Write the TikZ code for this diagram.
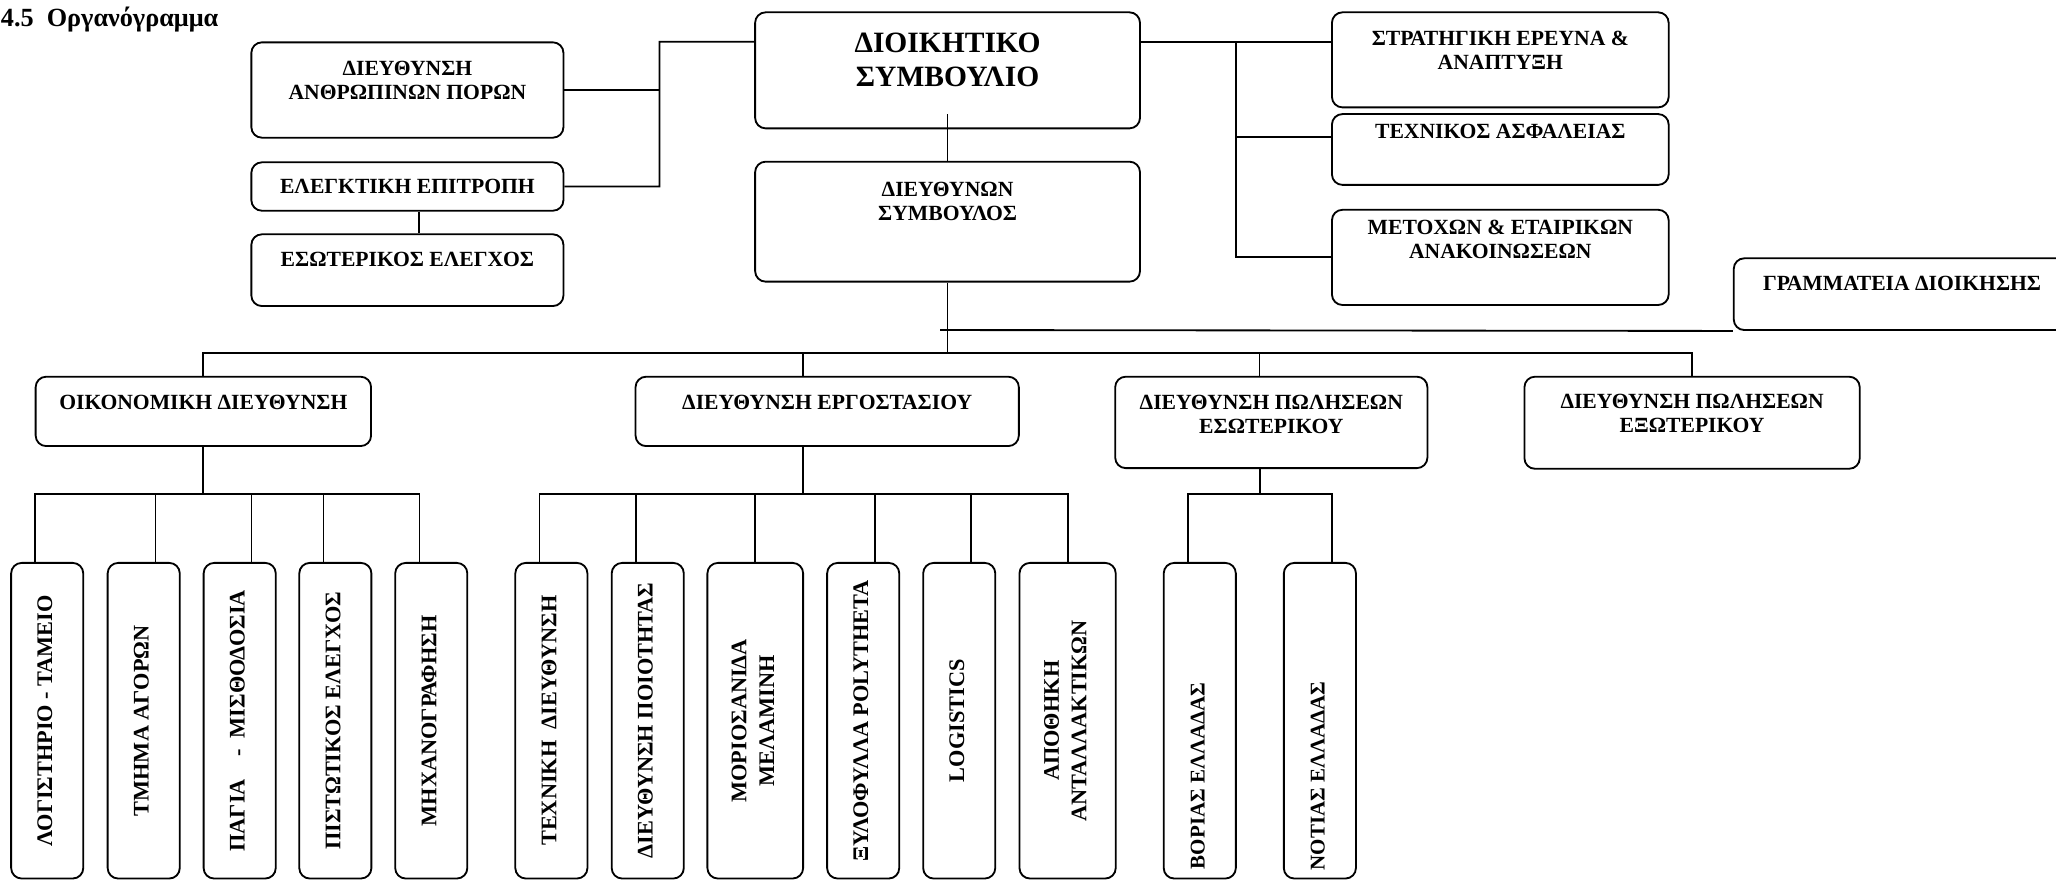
\documentclass[tikz,border=0pt]{standalone}
\usepackage{fontspec}
\setmainfont{Liberation Serif}[BoldFont={Liberation Serif Bold}]
\tikzset{
  unit/.style={draw, rounded corners=8pt, inner sep=0pt},
  txt/.style={anchor=north, align=center, inner sep=0pt, yshift=-#1},
  txt/.default=14pt,
  dept/.style={unit, minimum height=240.7, minimum width=#1, font=\fontsize{17}{19}\selectfont\bfseries},
  dept/.default=55
}
\newcommand{\vtext}[1]{\rotatebox{90}{\begin{tabular}{@{}c@{}}#1\end{tabular}}}

\begin{document}
\begin{tikzpicture}[x=1pt, y=-1pt, line width=1.4pt,
    font=\fontsize{16.5}{18}\selectfont\bfseries]
    \useasboundingbox (0,0) rectangle (1568,671);

    \node[anchor=base west, inner sep=0pt, font=\fontsize{20}{22}\selectfont\bfseries] at (0,20.3) (title) {4.5\ \ Οργανόγραμμα};

    \node[unit, minimum width=238, minimum height=72.7, label={[txt=14.7pt]90:ΔΙΕΥΘΥΝΣΗ\\ΑΝΘΡΩΠΙΝΩΝ ΠΟΡΩΝ}] at (310.7,68.65) (hr) {};
    \node[unit, minimum width=238, minimum height=36.9, label={[txt=13.2pt]90:ΕΛΕΓΚΤΙΚΗ ΕΠΙΤΡΟΠΗ}] at (310.7,142.25) (audit) {};
    \node[unit, minimum width=238, minimum height=54.7, label={[txt=13.3pt]90:ΕΣΩΤΕΡΙΚΟΣ ΕΛΕΓΧΟΣ}] at (310.7,206.05) (internal) {};

    \node[unit, minimum width=293.5, minimum height=88.5, label={[txt=16pt, font=\fontsize{22.5}{25.5}\selectfont\bfseries]90:ΔΙΟΙΚΗΤΙΚΟ\\ΣΥΜΒΟΥΛΙΟ}] at (722.65,53.65) (board) {};
    \node[unit, minimum width=293.5, minimum height=91.5, label={[txt=16pt]90:ΔΙΕΥΘΥΝΩΝ\\ΣΥΜΒΟΥΛΟΣ}] at (722.65,169.05) (ceo) {};

    \node[unit, minimum width=256.8, minimum height=72.5, label={[txt=14.6pt]90:ΣΤΡΑΤΗΓΙΚΗ ΕΡΕΥΝΑ \&\\ΑΝΑΠΤΥΞΗ}] at (1144.2,45.65) (strat) {};
    \node[unit, minimum width=256.8, minimum height=54, label={[txt=8pt]90:ΤΕΧΝΙΚΟΣ ΑΣΦΑΛΕΙΑΣ}] at (1144.2,114) (safety) {};
    \node[unit, minimum width=256.8, minimum height=72.6, label={[txt=8pt]90:ΜΕΤΟΧΩΝ \& ΕΤΑΙΡΙΚΩΝ\\ΑΝΑΚΟΙΝΩΣΕΩΝ}] at (1144.2,196.3) (share) {};
    \node[unit, minimum width=256.7, minimum height=54.7, label={[txt]90:ΓΡΑΜΜΑΤΕΙΑ ΔΙΟΙΚΗΣΗΣ}] at (1450.6,224.35) (secr) {};

    \node[unit, minimum width=255.8, minimum height=52.9, label={[txt]90:ΟΙΚΟΝΟΜΙΚΗ ΔΙΕΥΘΥΝΣΗ}] at (155.1,313.75) (fin) {};
    \node[unit, minimum width=292.3, minimum height=52.9, label={[txt]90:ΔΙΕΥΘΥΝΣΗ ΕΡΓΟΣΤΑΣΙΟΥ}] at (630.85,313.75) (factory) {};
    \node[unit, minimum width=238.1, minimum height=69.7, label={[txt]90:ΔΙΕΥΘΥΝΣΗ ΠΩΛΗΣΕΩΝ\\ΕΣΩΤΕΡΙΚΟΥ}] at (969.55,322.15) (salesin) {};
    \node[unit, minimum width=255.7, minimum height=70.2, label={[txt=13.4pt]90:ΔΙΕΥΘΥΝΣΗ ΠΩΛΗΣΕΩΝ\\ΕΞΩΤΕΡΙΚΟΥ}] at (1290.45,322.4) (salesout) {};

    \node[dept] at (36,549.65) (acc) {\vtext{ΛΟΓΙΣΤΗΡΙΟ - ΤΑΜΕΙΟ}};
    \node[dept] at (109.6,549.65) (buy) {\vtext{ΤΜΗΜΑ ΑΓΟΡΩΝ}};
    \node[dept] at (182.8,549.65) (assets) {\vtext{ΠΑΓΙΑ\ \ \ \ -\ \ ΜΙΣΘΟΔΟΣΙΑ}};
    \node[dept] at (255.75,549.65) (credit) {\vtext{ΠΙΣΤΩΤΙΚΟΣ ΕΛΕΓΧΟΣ}};
    \node[dept] at (328.9,549.65) (it) {\vtext{ΜΗΧΑΝΟΓΡΑΦΗΣΗ}};

    \node[dept] at (420.5,549.65) (tech) {\vtext{ΤΕΧΝΙΚΗ\ \ ΔΙΕΥΘΥΝΣΗ}};
    \node[dept] at (494,549.65) (quality) {\vtext{ΔΙΕΥΘΥΝΣΗ ΠΟΙΟΤΗΤΑΣ}};
    \node[dept=73] at (576,549.65) (chip) {\vtext{ΜΟΡΙΟΣΑΝΙΔΑ\\[2pt]ΜΕΛΑΜΙΝΗ}};
    \node[dept] at (658.3,549.65) (veneer) {\vtext{ΞΥΛΟΦΥΛΛΑ POLYTHETA}};
    \node[dept] at (731.55,549.65) (logis) {\vtext{LOGISTICS}};
    \node[dept=73.4] at (814.2,549.65) (spare) {\vtext{ΑΠΟΘΗΚΗ\\[2pt]ΑΝΤΑΛΛΑΚΤΙΚΩΝ}};

    \node[dept, font=\fontsize{16}{18}\selectfont\bfseries] at (915,549.65) (boreia) {\vtext{ΒΟΡΙΑΣ ΕΛΛΑΔΑΣ\hspace*{84pt}}};
    \node[dept, font=\fontsize{16}{18}\selectfont\bfseries] at (1006.6,549.65) (notia) {\vtext{ΝΟΤΙΑΣ ΕΛΛΑΔΑΣ\hspace*{84pt}}};

    \coordinate (lj) at (503,31.8);
    \draw ([yshift=21.8pt]board.west) -- (lj) |- (audit.east);
    \draw (hr.east) -- (hr.east -| lj);
    \draw ([xshift=9pt]audit.south) -- ([xshift=9pt]internal.north);
    \draw ([yshift=11.5pt]board.south) -- (ceo.north);

    \coordinate (rj) at (942.6,31.8);
    \draw ([yshift=21.8pt]board.east) -- ([yshift=13.8pt]strat.west);
    \draw (rj) |- ([yshift=9.5pt]safety.west);
    \draw (rj) |- (share.west);
    \coordinate (sl) at (717,251.7);
    \draw (sl) -- (secr.south west);

    \coordinate (bus) at (722.65,269.3);
    \draw (ceo.south) -- (bus);
    \foreach \n/\dx in {fin/0pt, factory/-18.3pt, salesin/-9pt, salesout/0pt}
      \draw (bus) -| ([xshift=\dx]\n.north);

    \draw (fin.south) -- ++(0,35.8) coordinate (fb);
    \foreach \n/\dx in {acc/-9pt, buy/9pt, assets/9pt, credit/-9pt, it/-9pt}
      \draw (fb) -| ([xshift=\dx]\n.north);
    \draw ([xshift=-18.3pt]factory.south) -- ++(0,35.8) coordinate (pb);
    \foreach \n/\dx in {tech/-9pt, quality/-9pt, chip/0pt, veneer/9pt, logis/9pt, spare/0pt}
      \draw (pb) -| ([xshift=\dx]\n.north);
    \draw ([xshift=-8.5pt]salesin.south) -- ++(0,19) coordinate (sb);
    \foreach \n/\dx in {boreia/-9pt, notia/9pt}
      \draw (sb) -| ([xshift=\dx]\n.north);
\end{tikzpicture}
\end{document}
